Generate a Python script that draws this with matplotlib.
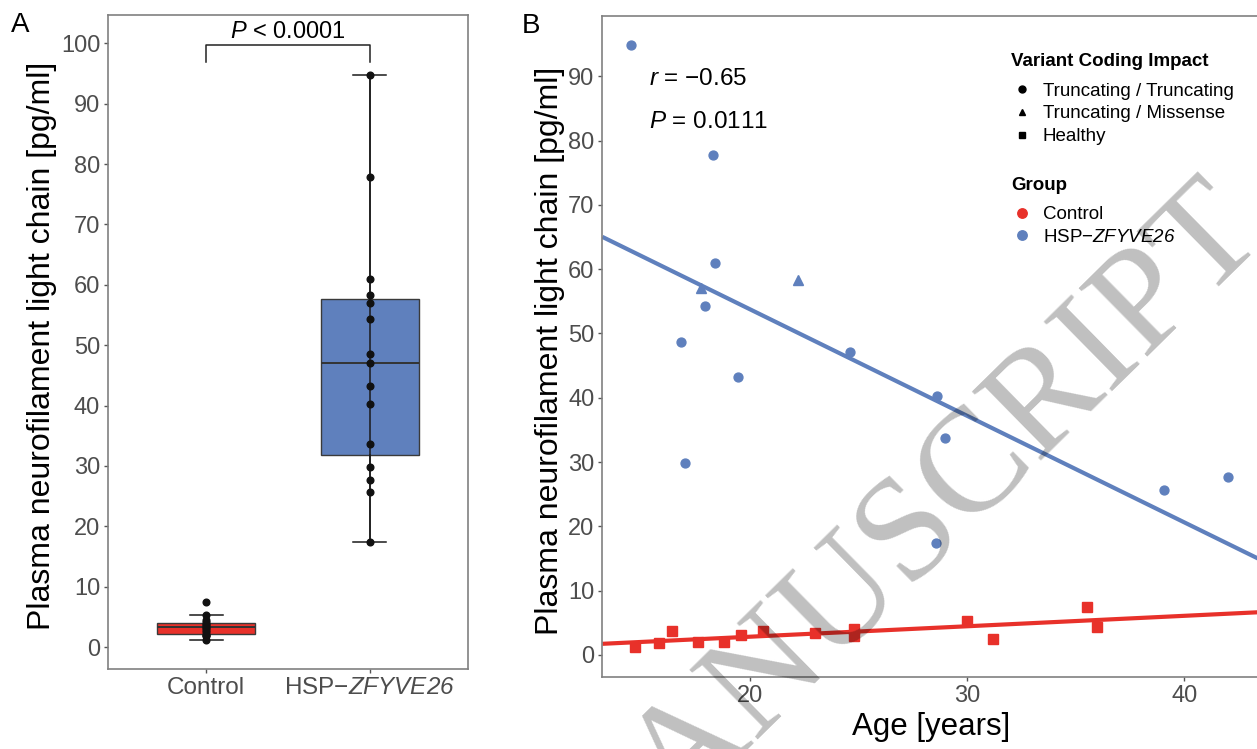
import numpy as np
import matplotlib
matplotlib.use('Agg')
from matplotlib import pyplot as plt
from matplotlib.lines import Line2D

plt.rcParams['font.family'] = ['Liberation Sans', 'DejaVu Sans']
# math text is only used for italic symbols / gene names, so keep it all italic
plt.rcParams['mathtext.fontset'] = 'custom'
plt.rcParams['mathtext.rm'] = 'Liberation Sans:italic'
plt.rcParams['mathtext.it'] = 'Liberation Sans:italic'
plt.rcParams['mathtext.bf'] = 'Liberation Sans:bold'

# controls: age [years] and plasma NfL [pg/ml]
ctrl_age = [14.7, 15.8, 16.4, 17.6, 18.8, 19.6, 20.6, 23.0, 24.8, 24.8, 30.0, 31.2, 35.5, 36.0]
ctrl_nfl = [1.2, 1.9, 3.8, 2.0, 2.0, 3.1, 3.7, 3.4, 4.1, 2.9, 5.3, 2.5, 7.4, 4.4]
# HSP-ZFYVE26 patients, TT = truncating/truncating, TM = truncating/missense
hsp_age = [14.55, 18.3, 18.4, 17.75, 22.2, 17.95, 16.85, 24.6, 19.45, 28.6, 29.0, 17.0, 28.55, 39.05, 42.0]
hsp_nfl = [94.8, 77.8, 61.0, 57.0, 58.3, 54.3, 48.6, 47.1, 43.3, 40.2, 33.7, 29.9, 17.4, 25.6, 27.7]
hsp_variant = ['TT', 'TT', 'TT', 'TM', 'TM', 'TT', 'TT', 'TT', 'TT', 'TT', 'TT', 'TT', 'TT', 'TT', 'TT']

group_labels = ['Control', 'HSP\u2212$ZFYVE26$']
variant_labels = ['Truncating / Truncating', 'Truncating / Missense', 'Healthy']
p_group = '$P$ < 0.0001'
r_text = '$r$ = \u22120.65'
p_corr = '$P$ = 0.0111'

red = '#E8312A'
blue = '#5F80BD'
tick_grey = '#4D4D4D'
frame_grey = '#808080'

W, H = 1257, 749
fig = plt.figure(figsize=(W / 100, H / 100), dpi=100)


def px_axes(l, t, r, b):
    return fig.add_axes([l / W, 1 - b / H, (r - l) / W, (b - t) / H])


def style(ax):
    for s in ax.spines.values():
        s.set_color(frame_grey)
        s.set_linewidth(1.2)
    ax.tick_params(length=3, width=1, color='#555555', pad=2.6, labelcolor=tick_grey)


# ---- A: boxplot
axA = px_axes(108, 15, 468, 669)
bp = axA.boxplot([ctrl_nfl, hsp_nfl], positions=[1, 2], widths=0.6, patch_artist=True,
                 showfliers=False, capwidths=0.2,
                 medianprops=dict(color='#333333', lw=1.4),
                 whiskerprops=dict(color='#1a1a1a', lw=1.1),
                 capprops=dict(color='#1a1a1a', lw=1.1))
for box, c in zip(bp['boxes'], [red, blue]):
    box.set_facecolor(c)
    box.set_edgecolor('#3a3a3a')
    box.set_linewidth(1.0)
for i in range(2):
    lo = bp['caps'][2 * i].get_ydata()[0]
    hi = bp['caps'][2 * i + 1].get_ydata()[0]
    axA.vlines(i + 1, lo, hi, color='#1a1a1a', lw=1.1, zorder=3)
for pos, vals in zip([1, 2], [ctrl_nfl, hsp_nfl]):
    axA.plot(np.full(len(vals), pos), vals, 'o', color='#111111', ms=4.8, zorder=4)

# significance bracket above the groups
top = max(hsp_nfl)
axA.plot([1, 1, 2, 2], [top + 2.1, top + 4.9, top + 4.9, top + 2.1], color='#222222', lw=1.1)
axA.text(1.5, top + 6.1, p_group, ha='center', va='baseline', fontsize=17)

axA.set_xlim(0.4, 2.6)
axA.set_ylim(-3.64, 104.7)
axA.set_yticks(range(0, 101, 10))
axA.set_xticks([1, 2])
axA.set_xticklabels(group_labels, fontsize=17.5)
axA.tick_params(axis='y', labelsize=17)
style(axA)
axA.set_ylabel('Plasma neurofilament light chain [pg/ml]', fontsize=23)
axA.yaxis.set_label_coords(-0.143, 0.494)

# ---- B: NfL against age
axB = px_axes(602.3, 15.7, 1259, 677.3)
axB.set_xlim(13.21, 43.44)
axB.set_ylim(-3.47, 99.42)

xs = np.array(axB.get_xlim())
for age, nfl, c in [(ctrl_age, ctrl_nfl, red), (hsp_age, hsp_nfl, blue)]:
    k, b = np.polyfit(age, nfl, 1)
    axB.plot(xs, k * xs + b, color=c, lw=3, zorder=2, solid_capstyle='butt')

axB.plot(ctrl_age, ctrl_nfl, 's', color=red, ms=6.5, ls='none', zorder=3)
hsp_age_a = np.array(hsp_age)
hsp_nfl_a = np.array(hsp_nfl)
var = np.array(hsp_variant)
axB.plot(hsp_age_a[var == 'TT'], hsp_nfl_a[var == 'TT'], 'o', color=blue, ms=6.4, ls='none', zorder=3)
axB.plot(hsp_age_a[var == 'TM'], hsp_nfl_a[var == 'TM'], '^', color=blue, ms=7, ls='none', zorder=3)

axB.text(0.0716, 0.8953, r_text, transform=axB.transAxes, fontsize=17.5, va='baseline')
axB.text(0.0716, 0.8303, p_corr, transform=axB.transAxes, fontsize=17.5, va='baseline')

axB.set_xticks([20, 30, 40])
axB.set_yticks(range(0, 91, 10))
axB.tick_params(labelsize=17)
style(axB)
axB.set_ylabel('Plasma neurofilament light chain [pg/ml]', fontsize=23)
axB.yaxis.set_label_coords(-0.0564, 0.493)
axB.set_xlabel('Age [years]', fontsize=22.5)
axB.xaxis.set_label_coords(0.5, -0.0524)

leg_kw = dict(loc='upper left', bbox_transform=fig.transFigure, frameon=False, fontsize=13.5,
              title_fontproperties={'weight': 'bold', 'size': 13.5}, alignment='left',
              borderpad=0, borderaxespad=0, handlelength=1.12, handletextpad=0.57,
              labelspacing=0.3)
shape_handles = [Line2D([], [], marker=m, color='black', ls='none', ms=5) for m in ['o', '^', 's']]
leg1 = axB.legend(shape_handles, variant_labels, title='Variant Coding Impact',
                  bbox_to_anchor=(1011 / W, 1 - 53 / H), **leg_kw)
leg1._legend_box.sep = 9
axB.add_artist(leg1)
group_handles = [Line2D([], [], marker='o', color=c, ls='none', ms=6.8) for c in [red, blue]]
leg2 = axB.legend(group_handles, group_labels, title='Group',
                  bbox_to_anchor=(1011 / W, 1 - 176.6 / H), **leg_kw)
leg2._legend_box.sep = 9

# panel letters
fig.text(11 / W, 1 - 12 / H, 'A', fontsize=20, va='top', ha='left')
fig.text(522 / W, 1 - 13 / H, 'B', fontsize=20, va='top', ha='left')

# diagonal watermark
fig.text(1268 / W, 1 - 238 / H, 'ACCEPTED MANUSCRIPT', ha='right', va='baseline', rotation=44.5,
         rotation_mode='anchor', fontsize=107, family='Liberation Serif', color='black',
         alpha=0.25, zorder=10)

fig.savefig('out.png', dpi=100)
